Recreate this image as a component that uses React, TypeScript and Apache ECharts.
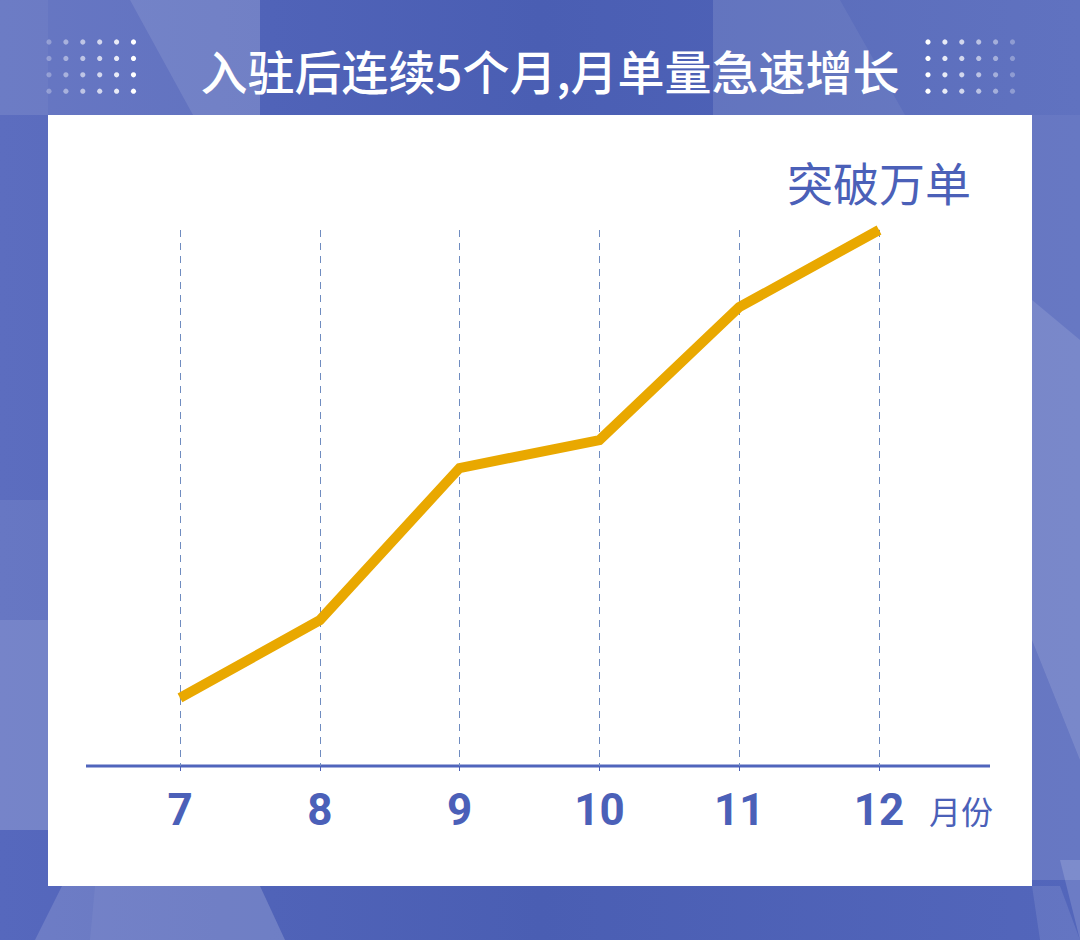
import { useEffect, useRef } from "react";
import * as echarts from "echarts";

// chart data
const months = ["7", "8", "9", "10", "11", "12"];
const orders = [1270, 2720, 5560, 6080, 8560, 10000];
const peakLabel = "突破万单";
const chartTitle = "入驻后连续5个月,月单量急速增长";
const unitName = "月份";

const BLUE = "#4b60b8";
const ORANGE = "#e9a800";
const CJK = "'Noto Sans CJK SC', 'Noto Sans', sans-serif";

// decorative background shapes (white overlays with opacity)
const bgShapes: { points: number[][]; opacity: number }[] = [
  { points: [[0, 0], [260, 0], [260, 115], [0, 115]], opacity: 0.1 },
  { points: [[130, 0], [260, 0], [260, 115], [193, 115]], opacity: 0.1 },
  { points: [[713, 0], [1080, 0], [1080, 115], [713, 115]], opacity: 0.08 },
  { points: [[713, 0], [840, 0], [905, 115], [713, 115]], opacity: 0.06 },
  { points: [[1032, 115], [1080, 115], [1080, 880], [1032, 880]], opacity: 0.12 },
  { points: [[1032, 300], [1080, 340], [1080, 760], [1032, 640]], opacity: 0.12 },
  { points: [[0, 500], [48, 500], [48, 830], [0, 830]], opacity: 0.1 },
  { points: [[0, 620], [48, 620], [48, 830], [0, 830]], opacity: 0.1 },
  { points: [[0, 0], [48, 0], [48, 500], [0, 500]], opacity: 0.04 },
  { points: [[35, 940], [62, 886], [260, 886], [285, 940]], opacity: 0.14 },
  { points: [[90, 940], [95, 886], [260, 886], [285, 940]], opacity: 0.05 },
  { points: [[1032, 886], [1060, 886], [1080, 940], [1040, 940]], opacity: 0.1 },
  { points: [[1060, 860], [1080, 860], [1080, 940]], opacity: 0.15 },
];

function dotGrid(x0: number, fadeRight: boolean) {
  const dots: any[] = [];
  for (let r = 0; r < 4; r++) {
    for (let c = 0; c < 6; c++) {
      const t = fadeRight ? 1 - c / 5 : c / 5;
      dots.push({
        type: "circle",
        z: -5,
        shape: { cx: x0 + c * 16.9, cy: 42 + r * 16.4, r: 2.6 },
        style: { fill: "#ffffff", opacity: 0.3 + 0.7 * t },
        silent: true,
      });
    }
  }
  return dots;
}

export default function App() {
  const chartRef = useRef<HTMLDivElement>(null);

  useEffect(() => {
    document.body.style.margin = "0";
    if (!chartRef.current) return;
    const chart = echarts.init(chartRef.current, undefined, { renderer: "svg" });

    const option: echarts.EChartsOption = {
      animation: false,
      textStyle: { fontFamily: CJK },
      graphic: [
        {
          type: "rect",
          z: -10,
          shape: { x: 0, y: 0, width: 1080, height: 940 },
          style: {
            fill: new echarts.graphic.LinearGradient(0, 0, 1, 0, [
              { offset: 0, color: "#5668bd" },
              { offset: 0.5, color: "#4a5eb3" },
              { offset: 1, color: "#5366bb" },
            ]),
          },
          silent: true,
        },
        ...bgShapes.map((s) => ({
          type: "polygon",
          z: -9,
          shape: { points: s.points },
          style: { fill: "#ffffff", opacity: s.opacity },
          silent: true,
        })),
        ...dotGrid(49, false),
        ...dotGrid(928, true),
        {
          type: "text",
          z: -5,
          x: 550,
          y: 69,
          style: {
            text: chartTitle,
            fill: "#ffffff",
            fontSize: 47,
            fontWeight: 500,
            fontFamily: CJK,
            textAlign: "center",
            textVerticalAlign: "middle",
            verticalAlign: "middle",
          },
          silent: true,
        },
        {
          type: "rect",
          z: -5,
          shape: { x: 48, y: 115, width: 984, height: 771 },
          style: { fill: "#ffffff" },
          silent: true,
        },
        {
          type: "line",
          z: -4,
          shape: { x1: 86, y1: 766, x2: 990, y2: 766 },
          style: { stroke: "#5065bc", lineWidth: 3 },
          silent: true,
        },
      ],
      grid: { left: 180, right: 201, top: 230, bottom: 174 },
      xAxis: {
        type: "category",
        data: months,
        boundaryGap: false,
        axisLine: { show: false },
        axisTick: { show: true, length: 5, lineStyle: { color: "#4b60b8", width: 1 } },
        splitLine: {
          show: true,
          lineStyle: { color: "#6f8cc0", width: 1, type: [7, 6] },
        },
        axisLabel: {
          color: BLUE,
          fontSize: 44,
          fontWeight: "bold",
          fontFamily: "Roboto, 'DejaVu Sans', sans-serif",
          margin: 22,
        },
        name: unitName,
        nameLocation: "end",
        nameGap: 50,
        nameTextStyle: {
          color: BLUE,
          fontSize: 32,
          fontFamily: CJK,
          verticalAlign: "top",
          padding: [28, 0, 0, 0],
        },
      },
      yAxis: {
        type: "value",
        min: 0,
        max: 10000,
        show: false,
        splitLine: { show: false },
      },
      series: [
        {
          type: "line",
          data: orders.map((v, i) =>
            i === orders.length - 1
              ? {
                  value: v,
                  label: {
                    show: true,
                    position: "top",
                    distance: 26,
                    formatter: peakLabel,
                    fontSize: 46,
                    color: BLUE,
                    fontFamily: CJK,
                  },
                }
              : v
          ),
          symbol: "circle",
          symbolSize: 1,
          showSymbol: true,
          itemStyle: { color: ORANGE },
          lineStyle: { color: ORANGE, width: 10, join: "miter", cap: "butt" },
          silent: true,
        },
      ],
    };

    chart.setOption(option);
    return () => chart.dispose();
  }, []);

  return <div ref={chartRef} style={{ width: 1080, height: 940 }} />;
}
